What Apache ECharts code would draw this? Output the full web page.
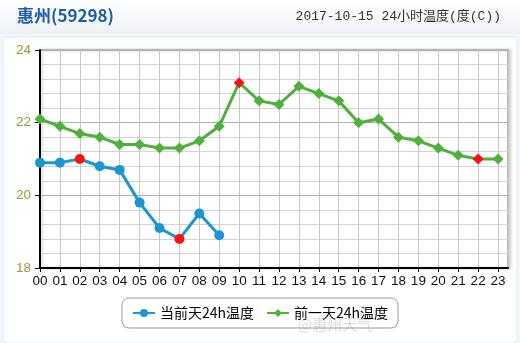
<!DOCTYPE html>
<html><head><meta charset="utf-8">
<script src="https://cdn.jsdelivr.net/npm/echarts@6/dist/echarts.min.js"></script>
<style>html,body{margin:0;padding:0;background:#f2f7fc;}#c{width:520px;height:343px;}</style>
</head><body><div id="c"></div>
<script>
const hours = ['00','01','02','03','04','05','06','07','08','09','10','11','12','13','14','15','16','17','18','19','20','21','22','23'];
const todayTemp = [20.9, 20.9, 21.0, 20.8, 20.7, 19.8, 19.1, 18.8, 19.5, 18.9];
const yesterdayTemp = [22.1, 21.9, 21.7, 21.6, 21.4, 21.4, 21.3, 21.3, 21.5, 21.9, 23.1, 22.6, 22.5, 23.0, 22.8, 22.6, 22.0, 22.1, 21.6, 21.5, 21.3, 21.1, 21.0, 21.0];
const todayRed = [2, 7];
const yesterdayRed = [10, 22];
const yTicks = [18, 20, 22, 24];

const chart = echarts.init(document.getElementById('c'));
function mk(arr, reds) {
  return arr.map((v, i) => reds.includes(i)
    ? { value: [i, v], itemStyle: { color: '#ff1010' } }
    : { value: [i, v] });
}
chart.setOption({
  animation: false,
  backgroundColor: '#f2f7fc',
  graphic: [
    { type: 'rect', shape: { x: 0, y: 0, width: 520, height: 34 }, style: { fill: new echarts.graphic.LinearGradient(0, 0, 0, 1, [{ offset: 0, color: '#ffffff' }, { offset: 1, color: '#edf1f5' }]) }, z: -10 },
    { type: 'rect', shape: { x: 3, y: 37, width: 514, height: 306, r: 4 }, style: { fill: '#ffffff', stroke: '#dfe9f3' }, z: -10 },
    { type: 'text', left: 298, top: 317, style: { text: '@惠州天气', fill: 'rgba(150,150,150,0.35)', font: '15px "Noto Sans CJK SC"' }, z: 100 }
  ],
  title: [
    { text: '惠州(59298)', left: 12, top: 2, textStyle: { fontSize: 17, fontWeight: 'bold', color: '#1c5ea6', fontFamily: '"Noto Sans CJK SC", sans-serif' } },
    { text: '2017-10-15 24小时温度(度(C))', right: 14, top: 5, textStyle: { fontSize: 13, fontWeight: 'normal', color: '#333', fontFamily: '"Liberation Mono", "Noto Sans CJK SC", monospace' } }
  ],
  grid: { left: 40, top: 50, right: 12, bottom: 75, show: true, backgroundColor: '#fff', borderColor: '#b8b8b8', borderWidth: 2, shadowColor: 'rgba(0,0,0,0.15)', shadowBlur: 3, shadowOffsetX: 2, shadowOffsetY: 0 },
  xAxis: {
    type: 'value', min: 0, max: 23.5, interval: 1,
    axisLine: { lineStyle: { color: '#000', width: 2 } },
    axisTick: { show: true, length: 4, lineStyle: { color: '#000' } },
    axisLabel: { color: '#111', fontSize: 13.5, margin: 6, fontFamily: '"Liberation Sans", Arial, sans-serif', formatter: v => (Number.isInteger(v) && v < hours.length) ? hours[v] : '', showMaxLabel: false },
    splitLine: { show: true, lineStyle: { color: '#c6c6c6', width: 1 } }
  },
  yAxis: {
    type: 'value', min: yTicks[0], max: yTicks[yTicks.length - 1], interval: 2,
    axisLine: { show: true, lineStyle: { color: '#000', width: 2 } },
    axisTick: { show: true, length: 5, lineStyle: { color: '#000' } },
    axisLabel: { color: '#9a9a3a', fontSize: 13.5, margin: 9, fontFamily: '"Liberation Sans", Arial, sans-serif' },
    splitLine: { show: true, lineStyle: { color: '#adadad', width: 1 } },
    minorTick: { show: false, splitNumber: 5 },
    minorSplitLine: { show: true, lineStyle: { color: '#d3d3d3', width: 1 } }
  },
  legend: {
    bottom: 15, left: 'center',
    itemWidth: 22, itemHeight: 10, itemGap: 12,
    borderColor: '#999', borderWidth: 1, borderRadius: 7,
    padding: [8, 10, 8, 10],
    textStyle: { fontSize: 14, color: '#000', fontFamily: '"Noto Sans CJK SC", sans-serif' },
    data: ['当前天24h温度', '前一天24h温度']
  },
  series: [
    {
      name: '当前天24h温度', type: 'line', data: mk(todayTemp, todayRed),
      symbol: 'circle', symbolSize: 10, showAllSymbol: true,
      lineStyle: { color: '#1a96d2', width: 3 },
      itemStyle: { color: '#1a96d2' }, z: 3
    },
    {
      name: '前一天24h温度', type: 'line', data: mk(yesterdayTemp, yesterdayRed),
      symbol: 'diamond', symbolSize: 11, showAllSymbol: true,
      lineStyle: { color: '#4db13a', width: 3 },
      itemStyle: { color: '#4db13a' }, z: 2
    }
  ]
});
</script></body></html>
